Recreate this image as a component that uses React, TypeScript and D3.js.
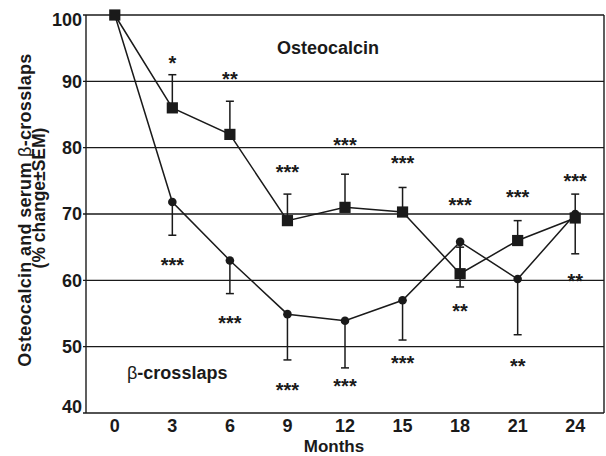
import React from 'react';
import * as d3 from 'd3';

// months of follow-up
const months = [0, 3, 6, 9, 12, 15, 18, 21, 24];

// osteocalcin, % change (squares), error bars drawn upward
const osteocalcin = [100, 86, 82, 69, 71, 70.3, 61, 66, 69.4];
const osteocalcinSem = [0, 5, 5, 4, 5, 3.7, 4, 3, 3.6];
const osteocalcinStars = ['', '*', '**', '***', '***', '***', '***', '***', '***'];
const osteocalcinStarAt = [0, 93.5, 91, 77, 81, 78.3, 72, 73.2, 75.6];

// serum beta-crosslaps, % change (circles), error bars drawn downward
const crosslaps = [100, 71.8, 63, 54.9, 53.9, 57, 65.8, 60.2, 70];
const crosslapsSem = [0, 5, 5, 6.9, 7.1, 6, 6.8, 8.4, 6];
const crosslapsStars = ['', '***', '***', '***', '***', '***', '**', '**', '**'];
const crosslapsStarAt = [0, 63, 54.3, 44.2, 44.8, 48.2, 56, 47.8, 60.6];

const yTicks = [40, 50, 60, 70, 80, 90, 100];

const W = 606;
const H = 456;
const m = { left: 86, right: 2, top: 15, bottom: 43 };
const ink = '#1a1a1a';
const font = 'Liberation Sans, Arial, Helvetica, sans-serif';

const App = () => {
  const x = d3.scaleLinear().domain([-1.5, 25.5]).range([m.left, W - m.right]);
  const y = d3.scaleLinear().domain([40, 100]).range([H - m.bottom, m.top]);

  const line = d3.line<number>()
    .x((_, i) => x(months[i]))
    .y(d => y(d));

  const cap = 4;
  // end tick labels are nudged inside the plot, as in the original
  const labelY = (t: number) => Math.min(Math.max(y(t), m.top + 5), H - m.bottom - 6);

  return (
    <svg width={W} height={H} style={{ position: 'absolute', left: 0, top: 0 }}
      fontFamily={font}>
      <rect x={0} y={0} width={W} height={H} fill="white" />

      {/* gridlines and frame */}
      {yTicks.map(t => (
        <g key={t}>
          <line x1={m.left - 3} x2={W - m.right} y1={y(t)} y2={y(t)}
            stroke={ink} strokeWidth={1.4} />
          <text x={m.left - 4} y={labelY(t)} dy="0.36em" textAnchor="end"
            fontSize={18} fontWeight="bold" fill={ink}>{t}</text>
        </g>
      ))}
      <line x1={m.left} x2={m.left} y1={y(100)} y2={y(40)} stroke={ink} strokeWidth={1.4} />
      <line x1={W - m.right} x2={W - m.right} y1={y(100)} y2={y(40)} stroke={ink} strokeWidth={1.4} />

      {/* x ticks */}
      {months.map(mo => (
        <text key={mo} x={x(mo)} y={432} textAnchor="middle"
          fontSize={18} fontWeight="bold" fill={ink}>{mo}</text>
      ))}
      <text x={334} y={452} textAnchor="middle" fontSize={17} fontWeight="bold" fill={ink}>Months</text>

      {/* y title */}
      <text transform="translate(31,210) rotate(-90)" textAnchor="middle"
        fontSize={18} fontWeight="bold" fill={ink} letterSpacing={0.3}>
        Osteocalcin and serum <tspan fontWeight="normal">β</tspan>-crosslaps
      </text>
      <text transform="translate(45,198) rotate(-90)" textAnchor="middle"
        fontSize={17.5} fontWeight="bold" fill={ink}>(% change±SEM)</text>

      {/* series labels */}
      <text x={328} y={54} textAnchor="middle" fontSize={18} fontWeight="bold" fill={ink}>Osteocalcin</text>
      <text x={127} y={379} fontSize={18} fontWeight="bold" fill={ink}>
        <tspan fontWeight="normal">β</tspan>-crosslaps
      </text>

      {/* error bars */}
      {months.map((mo, i) => i > 0 && (
        <g key={'e' + mo} stroke={ink} strokeWidth={1.5}>
          <line x1={x(mo)} x2={x(mo)} y1={y(osteocalcin[i])} y2={y(osteocalcin[i] + osteocalcinSem[i])} />
          <line x1={x(mo) - cap} x2={x(mo) + cap} y1={y(osteocalcin[i] + osteocalcinSem[i])} y2={y(osteocalcin[i] + osteocalcinSem[i])} />
          <line x1={x(mo)} x2={x(mo)} y1={y(crosslaps[i])} y2={y(crosslaps[i] - crosslapsSem[i])} />
          <line x1={x(mo) - cap} x2={x(mo) + cap} y1={y(crosslaps[i] - crosslapsSem[i])} y2={y(crosslaps[i] - crosslapsSem[i])} />
        </g>
      ))}

      {/* lines */}
      <path d={line(osteocalcin) || ''} fill="none" stroke={ink} strokeWidth={1.5} />
      <path d={line(crosslaps) || ''} fill="none" stroke={ink} strokeWidth={1.5} />

      {/* markers */}
      {crosslaps.map((v, i) => (
        <circle key={'c' + i} cx={x(months[i])} cy={y(v)} r={4.3} fill={ink} />
      ))}
      {osteocalcin.map((v, i) => (
        <rect key={'s' + i} x={x(months[i]) - 5.6} y={y(v) - 5.6} width={11.2} height={11.2} fill={ink} />
      ))}

      {/* significance stars */}
      {months.map((mo, i) => i > 0 && (
        <g key={'t' + mo} fontSize={20} fontWeight="bold" fill={ink} textAnchor="middle">
          <text x={x(mo)} y={y(osteocalcinStarAt[i])} dy="0.57em">{osteocalcinStars[i]}</text>
          <text x={x(mo)} y={y(crosslapsStarAt[i])} dy="0.57em">{crosslapsStars[i]}</text>
        </g>
      ))}
    </svg>
  );
};

export default App;
